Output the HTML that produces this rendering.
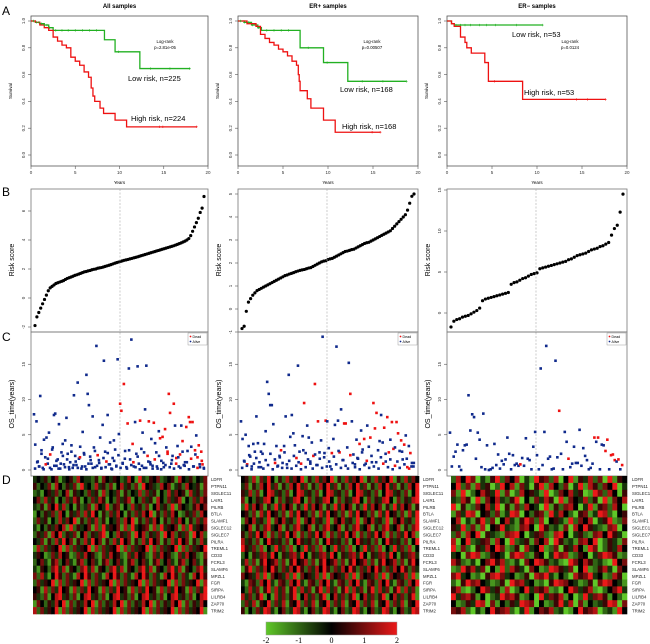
<!DOCTYPE html>
<html><head><meta charset="utf-8"><style>
html,body{margin:0;padding:0;background:#fff;}
svg{display:block;font-family:"Liberation Sans",sans-serif;}
</style></head><body>
<svg id="fig" width="650" height="644" viewBox="0 0 650 644"></svg>
<script>
// ---------- DATA ----------
const kmLowT1=[0,0.5,1,1.5,2,2.5,8.3,9.5,12.3,18.0];
const kmLowS1=[1,0.99,0.98,0.97,0.95,0.93,0.86,0.77,0.645,0.645];
const kmHighT1=[0,0.5,1,1.5,2,2.5,3,3.5,4,4.5,5,5.5,6,6.5,6.8,7,7.2,7.8,8.2,9.5,10.8,18.7];
const kmHighS1=[1,0.99,0.97,0.95,0.93,0.88,0.85,0.82,0.80,0.73,0.70,0.67,0.62,0.58,0.50,0.44,0.40,0.35,0.31,0.26,0.21,0.21];
const kmLowT2=[0,0.7,1.5,2.2,2.6,6.9,9.5,12.2,18.7];
const kmLowS2=[1,0.99,0.97,0.95,0.93,0.80,0.69,0.55,0.55];
const kmHighT2=[0,1,2,2.5,3,3.5,4,4.5,5,5.5,6,6.5,6.7,6.8,6.9,7.7,8.1,9.5,10.8,15.8];
const kmHighS2=[1,0.98,0.96,0.90,0.87,0.84,0.82,0.79,0.77,0.74,0.70,0.67,0.60,0.55,0.48,0.42,0.35,0.26,0.17,0.17];
const kmLowT3=[0,0.5,0.8,10.6];
const kmLowS3=[1,0.98,0.97,0.97];
const kmHighT3=[0,0.5,0.8,1.5,2,2.2,2.7,4.2,4.6,8.4,17.6];
const kmHighS3=[1,0.98,0.96,0.88,0.84,0.80,0.76,0.69,0.55,0.415,0.415];
const censorLow1=[0.3,0.6,0.9,1.2,1.5,1.8,2.1,2.8,3.5,4.2,5.0,5.8,6.6,7.4,9.9,13.5,15.7,17.9];
const censorHigh1=[14.5,14.9,18.7];
const censorLow2=[0.3,0.7,1.2,1.6,2.3,3.2,4.0,4.8,5.6,7.8,9.9,13.8,16.1,18.7];
const censorHigh2=[14.9,15.8];
const censorLow3=[1.0,1.5,2.0,2.6,3.6,4.4,5.4,7.7,10.6];
const censorHigh3=[5.3,14.4,15.6,17.6];

const risk1=[-1.9,-1.3,-1.0,-0.7,-0.4,-0.1,0.2,0.5,0.7,0.8,0.9,1.0,1.05,1.1,1.15,1.2,1.28,1.35,1.4,1.45,1.5,1.56,1.6,1.65,1.7,1.75,1.8,1.83,1.87,1.9,1.95,1.98,2.0,2.05,2.08,2.1,2.14,2.18,2.22,2.26,2.3,2.35,2.4,2.44,2.48,2.52,2.56,2.6,2.63,2.66,2.7,2.73,2.77,2.8,2.84,2.88,2.92,2.96,3.0,3.04,3.08,3.12,3.16,3.2,3.24,3.28,3.32,3.36,3.4,3.44,3.48,3.52,3.56,3.6,3.65,3.7,3.75,3.8,3.86,3.92,4.0,4.1,4.3,4.6,4.9,5.2,5.5,5.9,6.2,7.0];
const risk2=[-0.85,-0.75,-0.1,0.3,0.45,0.6,0.7,0.8,0.85,0.9,0.95,1.0,1.05,1.1,1.15,1.2,1.25,1.3,1.35,1.4,1.45,1.48,1.52,1.55,1.58,1.62,1.65,1.68,1.7,1.72,1.75,1.78,1.8,1.85,1.9,1.95,2.0,2.05,2.08,2.1,2.15,2.18,2.2,2.25,2.3,2.35,2.4,2.45,2.5,2.52,2.55,2.58,2.6,2.65,2.7,2.75,2.8,2.85,2.88,2.9,2.95,3.0,3.05,3.1,3.15,3.2,3.25,3.3,3.35,3.4,3.5,3.6,3.7,3.8,3.9,4.0,4.1,4.3,4.6,4.9,5.0];
const risk3=[-1.7,-1.0,-0.8,-0.7,-0.5,-0.4,-0.3,-0.1,0.1,0.3,0.6,1.5,1.7,1.8,1.9,2.0,2.1,2.2,2.3,2.4,2.5,3.5,3.7,3.8,4.0,4.2,4.3,4.5,4.7,4.8,4.9,5.4,5.5,5.6,5.7,5.8,5.9,6.0,6.1,6.2,6.3,6.5,6.6,6.8,7.0,7.1,7.2,7.3,7.5,7.7,7.8,7.9,8.1,8.2,8.4,8.6,9.5,10.3,10.7,12.3,14.5];

const os1=[[7.9,0],[3.6,0],[6.9,0],[1.2,0],[0.5,0],[10.5,0],[2.8,0],[0.3,0],[4.3,0],[1.8,0],[4.6,0],[0.9,0],[5.3,0],[2.2,1],[0.1,0],[3.2,0],[7.8,0],[8.0,0],[0.6,0],[1.5,0],[6.5,0],[0.2,0],[2.5,0],[3.7,0],[0.8,0],[4.2,0],[7.4,0],[2.3,0],[0.4,0],[1.1,0],[3.5,0],[0.3,0],[10.6,0],[2.0,0],[0.7,0],[12.4,0],[1.6,0],[3.3,0],[0.2,0],[5.4,0],[2.4,0],[0.5,0],[13.5,0],[10.8,0],[9.2,0],[1.9,0],[0.9,0],[7.6,0],[3.2,0],[0.4,0],[17.6,0],[2.1,1],[1.4,0],[4.6,0],[0.3,0],[6.4,0],[15.5,0],[2.6,0],[1.2,1],[7.8,0],[0.8,0],[3.9,0],[0.2,0],[1.7,0],[4.2,0],[2.9,0],[0.6,0],[15.7,0],[5.1,0],[9.4,1],[8.4,1],[1.0,0],[12.2,1],[2.7,0],[0.4,0],[6.6,1],[14.4,0],[1.5,0],[18.5,0],[3.7,1],[0.5,0],[6.8,0],[2.3,0],[14.7,0],[0.9,0],[7.0,1],[3.0,0],[5.3,0],[0.3,0],[8.6,0],[14.8,0],[2.0,1],[6.9,1],[1.1,0],[4.4,0],[0.6,0],[6.7,1],[3.8,0],[2.5,0],[0.2,0],[5.5,0],[4.5,1],[1.3,0],[4.7,1],[0.4,0],[5.8,1],[3.2,0],[2.6,1],[10.8,1],[8.1,1],[0.9,0],[2.0,0],[9.4,1],[6.3,0],[1.7,1],[3.4,0],[0.5,0],[2.2,1],[6.3,0],[4.1,1],[0.7,0],[1.1,0],[6.1,1],[2.7,0],[7.5,1],[6.8,1],[3.3,0],[6.8,1],[0.5,0],[2.8,1],[4.9,0],[1.8,1],[3.5,1],[0.4,0],[2.6,1],[0.8,1],[0.3,0]];
const osLow1=[[0.2,0],[1.1,0],[0.5,0],[2.3,0],[0.1,0],[0.8,1],[1.6,0],[0.3,0],[2.9,0],[0.6,0],[1.3,0],[0.2,0],[0.9,0],[2.0,0],[0.4,0],[1.5,0],[0.1,0],[2.6,0],[0.7,0],[1.2,0],[0.3,0],[1.8,1],[0.5,0],[2.2,0],[0.1,0],[0.9,0],[1.4,0],[0.3,0],[2.7,0],[0.6,0],[1.0,0],[0.2,0],[1.7,0],[0.4,0],[2.4,0],[0.8,0],[0.1,0],[1.3,0],[0.5,0],[2.1,0],[0.3,0],[0.9,0],[1.6,0],[0.2,0],[2.8,0],[0.7,0],[1.1,1],[0.4,0],[1.9,0],[0.1,0],[0.6,0],[2.5,0],[0.3,0],[1.2,0],[0.8,0],[0.2,0],[1.5,1],[0.5,0],[2.0,0],[0.1,0],[1.0,0],[0.7,0],[2.3,1],[0.4,0],[1.4,0],[0.2,0],[0.9,1],[1.8,0],[0.3,0],[2.6,0],[0.6,0],[1.1,0],[0.1,0],[1.6,1],[0.5,0],[2.2,0],[0.3,1],[0.8,0],[1.3,1],[0.2,0]];
const os2=[[6.9,0],[4.4,0],[1.3,0],[5.0,0],[0.8,1],[3.4,0],[1.9,0],[0.5,0],[3.7,0],[2.6,0],[7.6,0],[3.8,0],[1.1,0],[0.4,0],[2.3,0],[3.7,0],[5.5,0],[12.5,0],[10.8,0],[9.2,0],[9.2,0],[6.5,0],[1.5,0],[3.4,0],[0.6,0],[2.0,0],[2.8,1],[1.0,0],[3.4,0],[7.6,0],[0.3,0],[13.5,0],[4.7,0],[7.8,0],[5.2,0],[3.5,0],[1.7,1],[14.8,0],[2.6,0],[0.9,1],[4.8,0],[9.5,1],[2.4,0],[6.3,0],[4.6,0],[1.2,0],[3.9,0],[2.0,1],[12.2,1],[0.7,0],[6.9,1],[2.5,0],[4.2,0],[18.9,0],[1.8,0],[7.0,1],[6.9,0],[3.1,0],[0.5,0],[2.4,1],[4.4,0],[6.4,0],[17.5,0],[7.0,0],[2.5,1],[8.6,0],[1.4,0],[6.6,1],[6.6,1],[3.2,0],[15.2,0],[10.8,1],[6.9,0],[2.2,0],[0.8,0],[4.3,0],[1.6,0],[3.7,1],[5.6,0],[2.9,0],[4.4,1],[0.9,0],[6.3,0],[3.3,0],[4.6,1],[1.1,0],[9.5,1],[5.9,1],[8.1,1],[2.8,0],[4.1,0],[7.8,0],[3.9,0],[6.0,1],[1.2,0],[7.5,1],[2.5,1],[4.3,0],[6.8,1],[3.0,1],[3.2,0],[6.8,1],[5.2,1],[2.7,0],[4.2,1],[1.5,0],[3.6,1],[4.9,0],[0.4,1],[3.4,0],[2.4,1],[1.0,0],[0.5,0]];
const osLow2=[[0.3,0],[1.2,0],[0.6,0],[2.1,0],[0.1,0],[0.9,0],[1.7,0],[0.4,0],[2.6,0],[0.2,0],[1.4,0],[0.7,0],[2.3,0],[0.1,0],[1.0,1],[0.5,0],[1.8,0],[0.3,0],[2.5,0],[0.8,0],[1.3,0],[0.2,0],[2.0,0],[0.6,0],[1.1,0],[0.1,0],[2.8,0],[0.4,0],[1.5,0],[0.9,0],[0.2,0],[2.2,0],[0.7,0],[1.6,0],[0.3,0],[2.4,0],[0.5,0],[1.2,0],[0.1,0],[1.9,0],[0.8,0],[2.7,0],[0.3,0],[1.4,0],[0.6,0],[0.2,0],[2.1,1],[1.0,0],[0.4,0],[1.7,0],[0.1,0],[2.5,0],[0.7,0],[1.3,1],[0.3,0],[2.0,0],[0.5,0],[1.1,0],[0.2,0],[1.8,0],[0.9,1],[2.3,0],[0.4,0],[1.5,0],[0.1,0],[0.6,1],[1.2,0],[0.3,0],[2.6,0],[0.8,0],[1.6,0],[0.2,1],[0.5,0],[1.0,0]];
const os3=[[5.3,0],[0.5,0],[1.9,0],[2.6,0],[3.6,0],[0.5,0],[0.0,0],[2.8,0],[3.5,0],[3.6,0],[10.6,0],[5.6,0],[7.9,0],[7.5,0],[1.6,0],[5.3,0],[4.3,0],[0.4,0],[8.0,0],[0.1,0],[3.5,0],[0.0,0],[0.1,0],[0.3,0],[3.7,0],[0.7,0],[2.2,0],[0.2,0],[1.3,0],[0.8,0],[1.5,0],[4.6,0],[2.3,0],[0.1,0],[2.1,0],[0.7,0],[0.9,0],[0.6,0],[0.8,1],[1.7,0],[0.6,0],[4.5,0],[1.6,0],[1.4,0],[0.1,0],[3.3,0],[5.4,0],[2.1,0],[0.1,0],[14.4,0],[0.7,0],[5.4,0],[17.6,0],[1.6,0],[1.9,0],[0.1,0],[0.2,0],[15.5,0],[1.8,0],[8.4,1],[2.3,0],[0.1,0],[5.4,0],[4.0,0],[1.6,1],[0.4,0],[0.9,0],[3.3,0],[1.0,0],[1.0,0],[5.7,0],[0.6,0],[3.1,0],[2.0,0],[1.4,0],[0.1,0],[0.3,0],[0.9,0],[4.6,1],[4.0,0],[4.6,1],[0.1,0],[3.6,0],[3.5,0],[2.7,1],[4.3,1],[0.1,0],[2.1,1],[2.2,1],[1.4,1],[1.2,0],[1.5,1],[0.1,0],[0.7,1]];

const genes=["LDFR","PTPN11","SIGLEC11","LAIR1","PILRB","BTLA","SLAMF1","SIGLEC12","SIGLEC7","PILRA","TREML1","CD33","FCRL3","SLAMF6","MPZL1","FGR","SIRPA","LILRB4","ZAP70","TRIM2"];
// expression codes: 0..8 => -2..2
const heat1=[
"343524613452743325164354237418325462345174352436",
"524361742536183427352614735261845327461352743516",
"231453624715342635172436152437263514273645173526",
"462735142637514263751426357142635174263571426375",
"325164837241523617438256142735261473528164325746",
"142536274153627384152637415263748152637412536274",
"263514273648152637251436274815263741526374152637",
"314253647182534617283546172834561728354617283546",
"253617482536147253681427536184725361847253618472",
"436152738461527384615273846152738461527384615273",
"172635481726354817263548172635481726354817263548",
"354126374512637452163745216374521637452163745216",
"246315724631572463157246315724631572463157246315",
"315426837154268371542683715426837154268371542683",
"627314852631748526317485263174852631748526317485",
"263548172635481726354817263548172635481726354817",
"451726384517263845172638451726384517263845172638",
"532614783526147835261478352614783526147835261478",
"164253748162537481625374816253748162537481625374",
"726354817263548172635481726354817263548172635481"];
const heat2=[
"452716384152736481527364815273648152736481527364",
"361527483615274836152748361527483615274836152748",
"537261487352614873526148735261487352614873526148",
"614253784162537841625378416253784162537841625378",
"283746152837461528374615283746152837461528374615",
"452617384526173845261738452617384526173845261738",
"164735281647352816473528164735281647352816473528",
"347152683471526834715268347152683471526834715268",
"526384716263847162638471626384716263847162638471",
"735261485352614853526148535261485352614853526148",
"853627142836271428362714283627142836271428362714",
"241536738415367384153673841536738415367384153673",
"372615845726158457261584572615845726158457261584",
"158263748526374852637485263748526374852637485263",
"645372816453728164537281645372816453728164537281",
"316527483165274831652748316527483165274831652748",
"427361582736158273615827361582736158273615827361",
"736258141736258147362581473625814736258147362581",
"263715482637154826371548263715482637154826371548",
"514263873146238731462387314623873146238731462387"];
const heat3=[
"274860315826470318562704815372608154",
"482617350284716305817426038175264803",
"618024753816027453180264735018627405",
"327508164732580416375081643725081647",
"805126473805162743081526740381562740",
"163870452613870425618374205613872045",
"470315826047315862704531826470358126",
"538261704583216740852316074853216704",
"261748053216784035621784035216748530",
"704823561740823516470852316748025316",
"816205374861250734812605374186025374",
"340687125430687215403867125403687512",
"752130468572130648752310864752310846",
"128573604182753064128753604812573064",
"683412057863412507683142075683412750",
"205867431250867341205876431250687431",
"571024863517024836571204863571024683",
"836751402386751240836571402836751420",
"412538706142538760412583706142358706",
"657203148567203814657230148567023184"];

// ---------- DRAW ----------
const NS="http://www.w3.org/2000/svg";
const svg=document.getElementById("fig");
function mk(tag,attrs,parent){const e=document.createElementNS(NS,tag);for(const k in attrs)e.setAttribute(k,attrs[k]);(parent||svg).appendChild(e);return e;}
function txt(s,x,y,size,attrs,parent){const e=mk("text",Object.assign({x:x,y:y,"font-size":size},attrs||{}),parent);e.textContent=s;return e;}

const cols=[{x0:31,x1:208,hx0:33,hx1:207,gx:211},{x0:238,x1:418,hx0:241,hx1:419,gx:423},{x0:447,x1:627,hx0:451,hx1:627,gx:632}];
const titles=["All samples","ER+ samples","ER\u2212 samples"];
const kmSets=[
 {lt:kmLowT1,ls:kmLowS1,ht:kmHighT1,hs:kmHighS1,cl:censorLow1,ch:censorHigh1,p:"p=2.81e-05",pl:[165,43],low:"Low risk, n=225",lowP:[128,81],high:"High risk, n=224",highP:[131,121]},
 {lt:kmLowT2,ls:kmLowS2,ht:kmHighT2,hs:kmHighS2,cl:censorLow2,ch:censorHigh2,p:"p=0.00507",pl:[372,43],low:"Low risk, n=168",lowP:[340,92],high:"High risk, n=168",highP:[342,129]},
 {lt:kmLowT3,ls:kmLowS3,ht:kmHighT3,hs:kmHighS3,cl:censorLow3,ch:censorHigh3,p:"p=0.0124",pl:[570,43],low:"Low risk, n=53",lowP:[512,37],high:"High risk, n=53",highP:[524,95]}];
const riskSets=[{d:risk1,ticks:[-2,0,2,4,6],y0:298,k:14.5},{d:risk2,ticks:[-1,0,1,2,3,4,5],y0:309,k:23},{d:risk3,ticks:[0,5,10,15],y0:313,k:8.2}];
const osSets=[[os1,osLow1],[os2,osLow2],[os3]];
const heats=[heat1,heat2,heat3];
const medX=[120,327,536];

[["A",2,15],["B",2,196],["C",2,341],["D",2,484]].forEach(function(L){
 const t=txt(L[0],L[1],L[2],12,{fill:"#000"});
 
 
});

cols.forEach(function(c,ci){
 const g=mk("g",{});
 
 
 const w=c.x1-c.x0;
 const tt=txt(titles[ci],(c.x0+c.x1)/2,8,6,{"text-anchor":"middle","font-weight":"bold"},g);
 
 
 // ---- KM ----
 const km=kmSets[ci];
 const kx=function(t){return c.x0+w*t/20;};
 const ky=function(s){return 155-134*s;};
 const kbox=mk("rect",{x:c.x0,y:16,width:w,height:150,fill:"none",stroke:"#555","stroke-width":0.8},g);
 
 
 [0,0.2,0.4,0.6,0.8,1.0].forEach(function(v){
  mk("line",{x1:c.x0-3,x2:c.x0,y1:ky(v),y2:ky(v),stroke:"#555","stroke-width":0.6},g);
  const l=txt(v.toFixed(1),c.x0-6,ky(v),4.5,{"text-anchor":"middle",transform:"rotate(-90 "+(c.x0-6)+" "+ky(v)+")",fill:"#333"},g);
  
  
 });
 [0,5,10,15,20].forEach(function(v){
  mk("line",{x1:kx(v),x2:kx(v),y1:166,y2:169,stroke:"#555","stroke-width":0.6},g);
  const l=txt(String(v),kx(v),174,4.5,{"text-anchor":"middle",fill:"#333"},g);
  
  
 });
 const yl=txt("Survival",c.x0-19,91,4.5,{"text-anchor":"middle",transform:"rotate(-90 "+(c.x0-19)+" 91)"},g);
 
 
 const xl=txt("Years",(c.x0+c.x1)/2,184,4.5,{"text-anchor":"middle"},g);
 
 
 function stepPath(T,S){let d="M"+kx(T[0])+","+ky(S[0]);for(let i=1;i<T.length;i++){d+=" H"+kx(T[i])+" V"+ky(S[i]);}return d;}
 function sAt(T,S,t){let s=S[0];for(let i=0;i<T.length;i++){if(T[i]<=t)s=S[i];}return s;}
 const lowP=mk("path",{d:stepPath(km.lt,km.ls),fill:"none",stroke:"#22b022","stroke-width":1.3},g);
 
 
 const highP=mk("path",{d:stepPath(km.ht,km.hs),fill:"none",stroke:"#ee1111","stroke-width":1.3},g);
 
 
 km.cl.forEach(function(t){const y=ky(sAt(km.lt,km.ls,t));const m=mk("path",{d:"M"+(kx(t)-1.2)+","+y+"h2.4M"+kx(t)+","+(y-1.2)+"v2.4",stroke:"#22b022","stroke-width":0.6},g);
  
  });
 km.ch.forEach(function(t){const y=ky(sAt(km.ht,km.hs,t));const m=mk("path",{d:"M"+(kx(t)-1.2)+","+y+"h2.4M"+kx(t)+","+(y-1.2)+"v2.4",stroke:"#ee1111","stroke-width":0.6},g);
  
  });
 const lr=txt("Log-rank",km.pl[0],km.pl[1],4.3,{"text-anchor":"middle"},g);
 
 
 const pv=txt(km.p,km.pl[0],km.pl[1]+6,4.3,{"text-anchor":"middle"},g);
 
 
 const lo=txt(km.low,km.lowP[0],km.lowP[1],7.5,{},g);
 
 
 const hi=txt(km.high,km.highP[0],km.highP[1],7.5,{},g);
 
 

 // ---- B risk score ----
 const rs=riskSets[ci];
 const by=function(v){return rs.y0-rs.k*v;};
 const bbox=mk("rect",{x:c.x0,y:189,width:w,height:143,fill:"none",stroke:"#777","stroke-width":0.8},g);
 
 
 rs.ticks.forEach(function(v){
  mk("line",{x1:c.x0-3,x2:c.x0,y1:by(v),y2:by(v),stroke:"#555","stroke-width":0.6},g);
  const l=txt(String(v),c.x0-6,by(v),4.5,{"text-anchor":"middle",transform:"rotate(-90 "+(c.x0-6)+" "+by(v)+")",fill:"#333"},g);
  
  
 });
 const ryl=txt("Risk score",c.x0-17,260,7,{"text-anchor":"middle",transform:"rotate(-90 "+(c.x0-17)+" 260)"},g);
 
 
 rs.d.forEach(function(v,i){
  const x=c.x0+4+(w-8)*i/(rs.d.length-1);
  const p=mk("circle",{cx:x,cy:by(v),r:1.6,fill:"#000"},g);
  
  
 });
 // ---- C OS time ----
 const cy=function(t){return 470-7.05*t;};
 const cbox=mk("rect",{x:c.x0,y:332,width:w,height:144,fill:"none",stroke:"#777","stroke-width":0.8},g);
 
 
 const ml=mk("line",{x1:medX[ci],x2:medX[ci],y1:189,y2:476,stroke:"#aaa","stroke-width":0.6,"stroke-dasharray":"2,1.5"},g);
 
 
 [0,5,10,15].forEach(function(v){
  mk("line",{x1:c.x0-3,x2:c.x0,y1:cy(v),y2:cy(v),stroke:"#555","stroke-width":0.6},g);
  const l=txt(String(v),c.x0-6,cy(v),4.5,{"text-anchor":"middle",transform:"rotate(-90 "+(c.x0-6)+" "+cy(v)+")",fill:"#333"},g);
  
  
 });
 const oyl=txt("OS_time(years)",c.x0-17,404,7,{"text-anchor":"middle",transform:"rotate(-90 "+(c.x0-17)+" 404)"},g);
 
 
 osSets[ci].forEach(function(arr,ai){
  arr.forEach(function(pt,i){
   const x=c.x0+3+(w-6)*(i+ai*0.5)/(arr.length);
   const p=mk("rect",{x:x-1.3,y:cy(pt[0])-1.3,width:2.6,height:2.6,fill:pt[1]?"#ee1111":"#102a8c"},g);
   
   
  });
 });
 const lg=mk("g",{},g);
 
 
 mk("rect",{x:c.x1-20,y:333,width:19,height:12,fill:"#fff",stroke:"#888","stroke-width":0.4},lg);
 mk("circle",{cx:c.x1-17.5,cy:336.5,r:0.9,fill:"#ee1111"},lg);
 txt("Dead",c.x1-15.5,338,3.6,{},lg);
 mk("circle",{cx:c.x1-17.5,cy:341.5,r:0.9,fill:"#102a8c"},lg);
 txt("Alive",c.x1-15.5,343,3.6,{},lg);

 // ---- D heatmap ----
 const hm=heats[ci];
 const nr=hm.length,nc=hm[0].length;
 const cw=(c.hx1-c.hx0)/nc,rh=(614-476)/nr;
 const hg=mk("g",{},g);
 
 
 hm.forEach(function(row,r){
  for(let j=0;j<nc;j++){
   const v=(parseInt(row[j])-4)/2;
   const cell=mk("rect",{x:c.hx0+j*cw,y:476+r*rh,width:cw+0.3,height:rh+0.3,fill:colorOf(v)},hg);
   
   
  }
  const gl=txt(genes[r],c.gx,476+r*rh+rh*0.75,4.3,{fill:"#222"},g);
  
  
 });
});

function colorOf(v){
 const t=Math.max(-2,Math.min(2,v))/2;
 if(t<0){const a=-t;return "rgb("+Math.round(95*a)+","+Math.round(200*a)+","+Math.round(40*a)+")";}
 return "rgb("+Math.round(235*t)+","+Math.round(25*t)+","+Math.round(25*t)+")";
}

const defs=mk("defs",{});
const lgd=mk("linearGradient",{id:"cb",x1:0,x2:1,y1:0,y2:0},defs);
[[0,"rgb(95,200,40)"],[0.5,"#000"],[1,"rgb(235,25,25)"]].forEach(function(s){mk("stop",{offset:s[0],"stop-color":s[1]},lgd);});
const cbg=mk("g",{});


mk("rect",{x:266,y:622,width:131,height:13,fill:"url(#cb)",stroke:"#999","stroke-width":0.5},cbg);
const cbTicks=[-2,-1,0,1,2];
cbTicks.forEach(function(v){
 const x=266+131*(v+2)/4;
 const l=txt(v<0?("-"+(-v)):String(v),x,643,8,{"text-anchor":"middle","font-family":"Liberation Serif, serif"},cbg);
 
 
});
</script>
</body></html>
